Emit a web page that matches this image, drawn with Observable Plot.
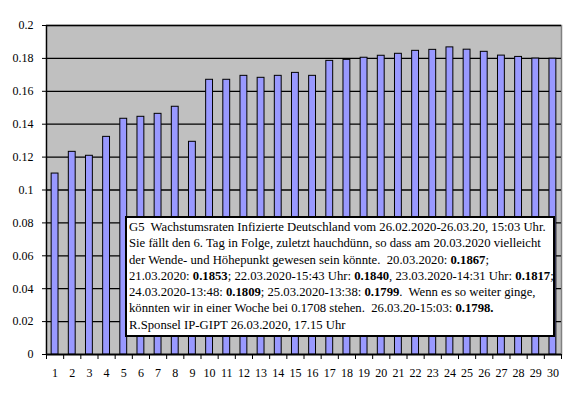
<!DOCTYPE html>
<html><head><meta charset="utf-8">
<script src="https://cdn.jsdelivr.net/npm/d3@7"></script>
<script src="https://cdn.jsdelivr.net/npm/@observablehq/plot@0.6"></script>
<style>
body{margin:0;background:#fff;}
#wrap{position:relative;width:571px;height:393px;}
#chart svg, #chart svg text{font-family:"Liberation Serif","Times New Roman",serif !important;}
#note{position:absolute;left:125px;top:216px;width:424px;height:116px;background:#fff;border:2px solid #000;
 font-family:"Liberation Serif","Times New Roman",serif;font-size:12.7px;line-height:16.3px;color:#000;padding:1px 0 0 2px;box-sizing:content-box;white-space:nowrap;}
#note div{height:16.3px;}
</style></head>
<body><div id="wrap"><div id="chart"></div>
<div id="note">
<div>G5&nbsp; Wachstumsraten Infizierte Deutschland vom 26.02.2020-26.03.20, 15:03 Uhr.</div>
<div>Sie fällt den 6. Tag in Folge, zuletzt hauchdünn, so dass am 20.03.2020 vielleicht</div>
<div>der Wende- und Höhepunkt gewesen sein könnte.&nbsp; 20.03.2020: <b>0.1867</b>;</div>
<div>21.03.2020: <b>0.1853</b>; 22.03.2020-15:43 Uhr: <b>0.1840</b>, 23.03.2020-14:31 Uhr: <b>0.1817</b>;</div>
<div>24.03.2020-13:48: <b>0.1809</b>; 25.03.2020-13:38: <b>0.1799</b>.&nbsp; Wenn es so weiter ginge,</div>
<div>könnten wir in einer Woche bei 0.1708 stehen.&nbsp; 26.03.20-15:03: <b>0.1798.</b></div>
<div>R.Sponsel IP-GIPT 26.03.2020, 17.15 Uhr</div>
</div></div>
<script>
const days = d3.range(1, 31);
const rates = [0.110, 0.1232, 0.1208, 0.1323, 0.1433, 0.1445, 0.1463, 0.1506, 0.1293, 0.1670,
  0.1670, 0.1694, 0.1682, 0.1694, 0.1712, 0.1694, 0.1785, 0.1791, 0.1804, 0.1816,
  0.1828, 0.1846, 0.1852, 0.1867, 0.1853, 0.1840, 0.1817, 0.1809, 0.1799, 0.1798];
const yTicks = d3.range(0, 0.2001, 0.02).map(v => +v.toFixed(2));
const xLabels = days;
const data = days.map((d, i) => ({day: d, rate: rates[i]}));
const bounds = d3.range(0, 31).map(i => i + 0.5);

const chart = Plot.plot({
  width: 571, height: 393,
  marginLeft: 46, marginRight: 10, marginTop: 25, marginBottom: 39,
  style: "font-family: 'Liberation Serif', serif; font-size: 12px; color: #000; background: #fff;",
  x: {type: "linear", domain: [0.5, 30.5]},
  y: {domain: [0, 0.2]},
  marks: [
    Plot.frame({fill: "#C0C0C0", stroke: "#808080", strokeWidth: 1.5}),
    Plot.ruleY(yTicks, {stroke: "#000", strokeWidth: 1.3}),
    Plot.rectY(data, {x1: d => d.day - 0.2, x2: d => d.day + 0.2, y: "rate", fill: "#9999FF", stroke: "#000", strokeWidth: 1}),
    Plot.ruleX([0.5], {stroke: "#000", strokeWidth: 1.3}),
    Plot.ruleY([0], {stroke: "#000", strokeWidth: 1.3}),
    Plot.axisY({ticks: yTicks, tickSize: 4, tickPadding: 9, tickFormat: d => String(d), label: null, stroke: "#000", fontSize: 12}),
    Plot.axisX({ticks: bounds, tickSize: 5, tickFormat: () => "", label: null, stroke: "#000"}),
    Plot.axisX({ticks: xLabels, tickSize: 0, tickPadding: 14, tickFormat: d => String(d), label: null, fontSize: 12})
  ]
});
document.getElementById("chart").appendChild(chart);
</script>
</body></html>
